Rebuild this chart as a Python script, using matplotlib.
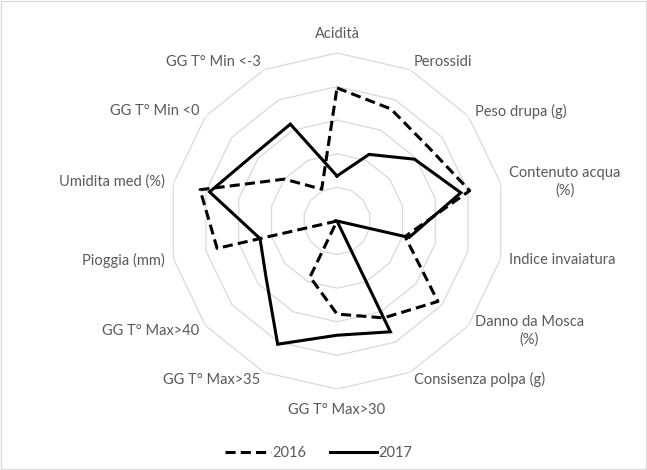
import numpy as np
import matplotlib
matplotlib.use("Agg")
import matplotlib.pyplot as plt
from matplotlib.patches import Rectangle

categories = ["Acidità", "Perossidi", "Peso drupa (g)", "Contenuto acqua\n(%)",
              "Indice invaiatura", "Danno da Mosca\n(%)", "Consisenza polpa (g)",
              "GG T° Max>30", "GG T° Max>35", "GG T° Max>40", "Pioggia (mm)",
              "Umidita med (%)", "GG T° Min <0", "GG T° Min <-3"]
v2016 = [3.96, 3.7, 3.5, 4.05, 2.08, 3.84, 3.2, 2.77, 1.85, 0.0, 3.66, 4.18, 2.0, 1.05]
v2017 = [1.34, 2.2, 2.95, 3.78, 2.2, 0.0, 3.66, 3.4, 4.07, 2.7, 2.35, 3.89, 3.17, 3.2]
rings = [1, 2, 3, 4, 5]

plt.rcParams['font.family'] = ['Lato', 'DejaVu Sans']
W, H = 647, 470
fig = plt.figure(figsize=(W / 100, H / 100), dpi=100)
cx, cy, R = 337 / W, 1 - 221 / H, 168
ax = fig.add_axes([cx - R / W, cy - R / H, 2 * R / W, 2 * R / H], projection='polar')
ax.set_theta_zero_location('N')
ax.set_theta_direction(-1)
ax.set_ylim(0, 5)
ax.grid(False)
ax.set_xticks([])
ax.set_yticks([])
ax.spines['polar'].set_visible(False)
ax.patch.set_alpha(0)

n = len(categories)
ang = np.linspace(0, 2 * np.pi, n, endpoint=False)
angc = np.append(ang, ang[0])
for r in rings:
    ax.plot(angc, [r] * (n + 1), color='#d9d9d9', lw=0.9, zorder=1)

d16 = np.append(v2016, v2016[0])
d17 = np.append(v2017, v2017[0])
l16, = ax.plot(angc, d16, color='black', lw=2.2, linestyle=(0, (3.3, 1.7)), zorder=3,
               label='2016', solid_joinstyle='miter')
l17, = ax.plot(angc, d17, color='black', lw=2.2, zorder=3, label='2017',
               solid_joinstyle='miter')

txtc = '#595959'
fs = 10.5
for a, lab in zip(ang, categories):
    deg = np.degrees(a) % 360
    if deg < 1 or abs(deg - 180) < 1:
        r = 5.57 if deg < 1 else 5.62
        ha = 'center'
    else:
        r = 5.25
        ha = 'left' if deg < 180 else 'right'
    ax.text(a, r, lab, ha=ha, va='center', multialignment='center',
            fontsize=fs, color=txtc, linespacing=1.35)

fig.legend(handles=[l16, l17], loc='center', bbox_to_anchor=(0.492, 1 - 453 / H),
           ncol=2, frameon=False, fontsize=fs, handlelength=3.2,
           handletextpad=0.1, columnspacing=1.6, labelcolor=txtc)

fig.patches.append(Rectangle((1 / W, 1 / H), 1 - 2 / W, 1 - 2 / H, transform=fig.transFigure,
                             fill=False, edgecolor='#d9d9d9', lw=0.9))
fig.savefig('out.png', dpi=100, facecolor='white')
